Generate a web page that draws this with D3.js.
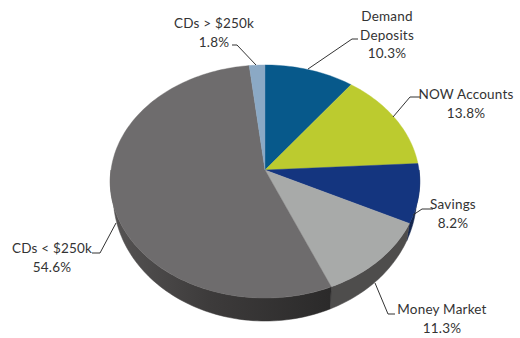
<!DOCTYPE html>
<html>
<head>
<meta charset="utf-8">
<script src="https://cdnjs.cloudflare.com/ajax/libs/d3/7.8.5/d3.min.js"></script>
<style>
html,body{margin:0;padding:0;background:#fff}
svg{display:block}
text{font-family:Lato,"Open Sans",sans-serif;font-size:13.5px;letter-spacing:0.2px;fill:#333;text-anchor:middle}
</style>
</head>
<body>
<svg id="chart" width="520" height="338"></svg>
<script>
// Deposit mix, share of total by account type
const categories = ["Demand Deposits", "NOW Accounts", "Savings", "Money Market", "CDs < $250k", "CDs > $250k"];
const shares = [10.3, 13.8, 8.2, 11.3, 54.6, 1.8];
const topColors = ["#07598b", "#bccb2f", "#14357f", "#a8aaa9", "#6e6c6d", "#8ba9c5"];
const sideColors = ["#04385a", "#6f7a1a", "#14264f", "#4e4d4c", "url(#wall)", "#55687c"];

// Label text lines and placement, plus the leader elbows
const labelLines = [["Demand", "Deposits", "10.3%"], ["NOW Accounts", "13.8%"], ["Savings", "8.2%"],
                    ["Money Market", "11.3%"], ["CDs < $250k", "54.6%"], ["CDs > $250k", "1.8%"]];
const labelAnchors = [[387, 21], [466, 99], [453, 209], [442, 314], [52, 253], [214, 28]];
const leaders = [
  [[308, 69], [352, 39], [358, 39]],
  [[393, 117], [410, 97], [420, 97]],
  [[413, 215], [422, 209], [433, 209]],
  [[375, 283], [388, 314], [395, 314]],
  [[116, 223], [100, 253], [92, 253]],
  [[256, 65], [237, 45], [232, 45]]
];

const svg = d3.select("#chart");

// Shading along the large wall, dark towards the front
const wall = svg.append("defs").append("linearGradient").attr("id", "wall")
  .attr("gradientUnits", "userSpaceOnUse")
  .attr("x1", 110).attr("y1", 0).attr("x2", 330).attr("y2", 0);
wall.append("stop").attr("offset", 0).attr("stop-color", "#565454");
wall.append("stop").attr("offset", 0.45).attr("stop-color", "#3d3b3b");
wall.append("stop").attr("offset", 1).attr("stop-color", "#2b2a2a");

// Tilted disc: a circle seen in perspective, nearer at the bottom
const cx = 265, cy = 170, radiusX = 154, radiusY = 115.4, tilt = 0.0987;
// The underside rim is a slightly narrower, lower ellipse
const rimCy = 181.5, lowerCy = 196, lowerScaleX = 152 / 155, lowerScaleY = 125 / 116.5;
function project(angle) {
  const u = Math.sin(angle), v = -Math.cos(angle);
  const s = 1 / (1 - tilt * v);
  return [cx + radiusX * u * s, cy + radiusY * v * s];
}
function projectLower(angle) {
  const [x, y] = project(angle);
  return [cx + (x - cx) * lowerScaleX, lowerCy + (y - rimCy) * lowerScaleY];
}

const pie = d3.pie().sort(null).value(d => d);
const arcs = pie(shares);
const path = d3.line();

function rimPoints(a0, a1, at) {
  const n = Math.max(2, Math.ceil((a1 - a0) * 40));
  return d3.range(n + 1).map(i => at(a0 + (a1 - a0) * i / n));
}

// Side wall, only the near half of the rim shows; the top face hides the rest
const sideStart = Math.PI * 0.5, sideEnd = Math.PI * 1.5;
arcs.forEach((d, i) => {
  const a0 = Math.max(d.startAngle, sideStart), a1 = Math.min(d.endAngle, sideEnd);
  if (a1 <= a0) return;
  const outer = rimPoints(a0, a1, project), lower = rimPoints(a0, a1, projectLower).reverse();
  svg.append("path").attr("d", path(outer.concat(lower)) + "Z")
    .attr("fill", sideColors[i]).attr("stroke", sideColors[i]).attr("stroke-width", 0.5);
});

// Top face slices
arcs.forEach((d, i) => {
  const pts = [[cx, cy]].concat(rimPoints(d.startAngle, d.endAngle, project));
  svg.append("path").attr("d", path(pts) + "Z")
    .attr("fill", topColors[i]).attr("stroke", topColors[i]).attr("stroke-width", 0.4);
});

// Leaders
leaders.forEach(pts => {
  svg.append("path").attr("d", path(pts)).attr("fill", "none")
    .attr("stroke", "#333").attr("stroke-width", 1);
});

// Labels
labelLines.forEach((lines, i) => {
  const t = svg.append("text").attr("x", labelAnchors[i][0]).attr("y", labelAnchors[i][1]);
  lines.forEach((line, j) => {
    t.append("tspan").attr("x", labelAnchors[i][0]).attr("dy", j ? 18.5 : 0).text(line);
  });
});
</script>
</body>
</html>
